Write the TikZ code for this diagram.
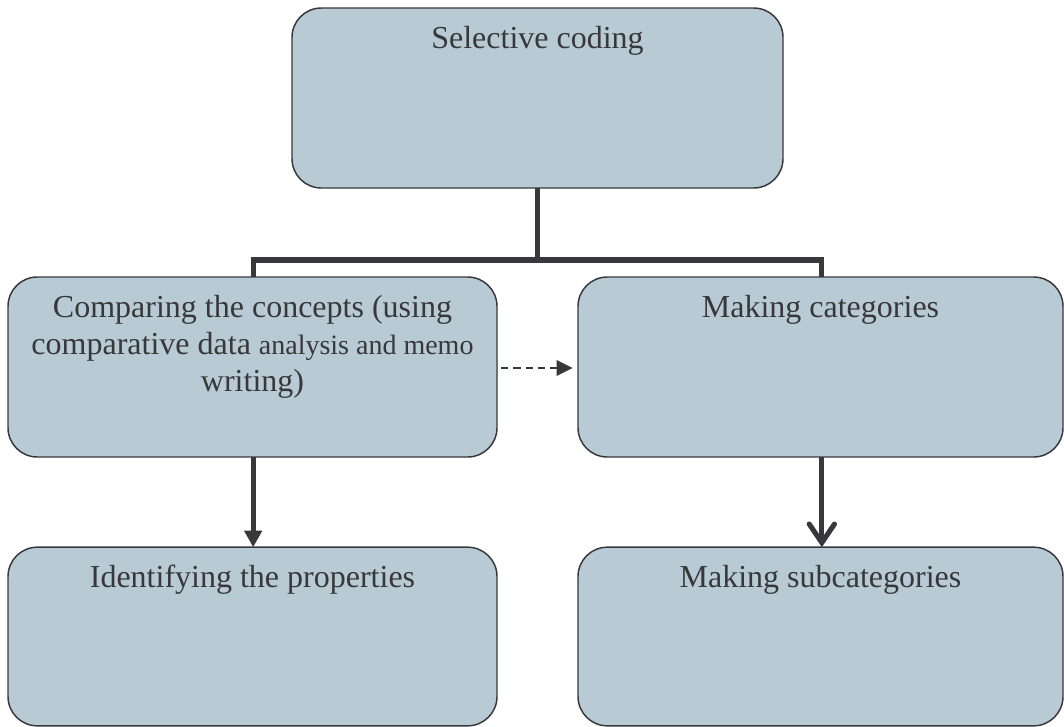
\documentclass[tikz,border=0pt]{standalone}
\usepackage{fontspec}
\setmainfont{Liberation Serif}
\usetikzlibrary{arrows.meta}
\definecolor{boxfill}{HTML}{B8CAD4}
\definecolor{ink}{HTML}{38383C}
\tikzset{
  box/.style={draw=ink, line width=1.1pt, fill=boxfill, rounded corners=22pt,
    minimum width=#1*0.75pt, inner sep=0pt, outer sep=0pt},
  box/.default=489,
  txt/.style={text=ink, font=\fontsize{24}{27.4}\selectfont, align=center, inner sep=0pt, anchor=base},
  conn/.style={draw=ink, line width=3.8pt, line join=miter},
  solidarrow/.style={draw=ink, line width=3.6pt, -{Triangle[length=12.5pt, width=13pt]}},
  openarrow/.style={draw=ink, line width=3.8pt, -{Straight Barb[length=14pt, width=19pt, line width=3.8pt, line cap=round]}},
  dasharrow/.style={draw=ink, line width=1.6pt, dash pattern=on 5.6pt off 3.6pt,
    -{Triangle[length=12pt, width=11.5pt]}, shorten <=3pt, shorten >=4pt}
}
\begin{document}
\begin{tikzpicture}[x=0.75pt, y=-0.75pt]
\useasboundingbox (0,0) rectangle (1064,726);

% boxes
\node[box=491, minimum height=135pt] (top) at (537.5,98) {};
\node[box=489, minimum height=135pt] (ml) at (252.5,367) {};
\node[box=485, minimum height=135pt] (mr) at (820.5,367) {};
\node[box=489, minimum height=134pt] (bl) at (252.5,636.5) {};
\node[box=485, minimum height=134pt] (br) at (820.5,636.5) {};

% texts (base anchor of a multi-line node sits on its last line)
\node[txt] (ttop) at ([yshift=-30pt]top.north) {Selective coding};
\node[txt] (tml) at ([yshift=-85.5pt]ml.north) {Comparing the concepts (using\\
  comparative data {\fontsize{21}{27.4}\selectfont analysis and memo}\\ writing)};
\node[txt] (tmr) at ([yshift=-30.5pt]mr.north) {Making categories};
\node[txt] (tbl) at ([yshift=-30.5pt]bl.north) {Identifying the properties};
\node[txt] (tbr) at ([yshift=-30.5pt]br.north) {Making subcategories};

% tree connector
\coordinate (bar) at (537.5,260);
\draw[conn] (top.south) -- (bar);
\draw[conn] ([xshift=0.5pt]ml.north) |- (bar) -| ([xshift=1pt]mr.north);

% arrows to lower boxes
\draw[solidarrow] ([xshift=0.5pt]ml.south) -- ([xshift=0.5pt]bl.north);
\draw[openarrow] ([xshift=1pt]mr.south) -- ([xshift=1pt]br.north);

% dashed link
\draw[dasharrow] ([yshift=-0.75pt]ml.east) -- ([yshift=-0.75pt]mr.west);
\end{tikzpicture}
\end{document}
